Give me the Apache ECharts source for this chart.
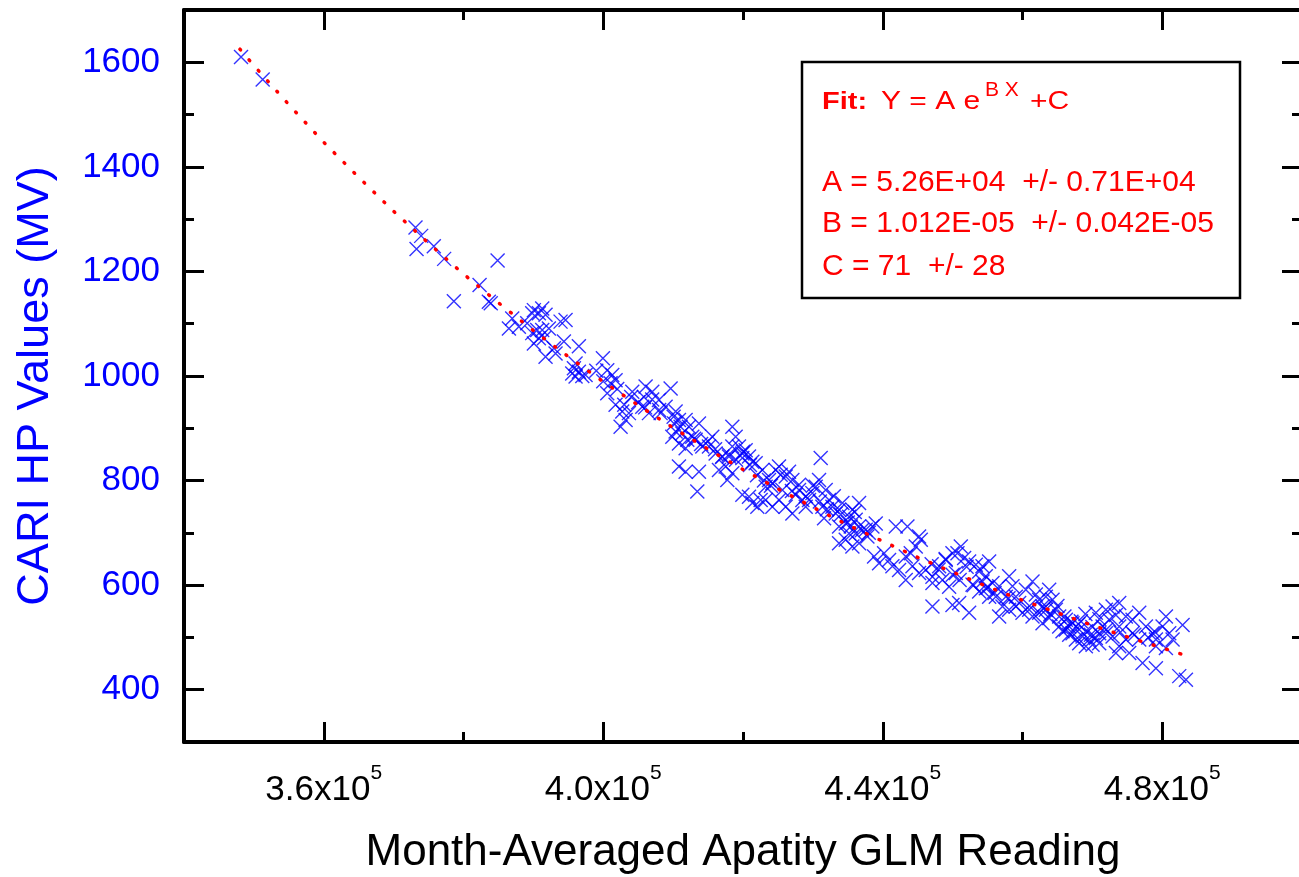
<!DOCTYPE html>
<html>
<head>
<meta charset="utf-8">
<script src="https://cdn.jsdelivr.net/npm/echarts@6/dist/echarts.min.js"></script>
<style>
html,body{margin:0;padding:0;background:#fff;}
#chart{width:1299px;height:877px;}
</style>
</head>
<body>
<div id="chart"></div>
<script>
// ---- data ----
const xTickValues = [360000, 400000, 440000, 480000];
const xTickLabels = ['3.6x10', '4.0x10', '4.4x10', '4.8x10'];
const xTickExponent = '5';
const xMinorTicks = [380000, 420000, 460000];
const yTickValues = [400, 600, 800, 1000, 1200, 1400, 1600];
const yMinorTicks = [500, 700, 900, 1100, 1300, 1500];

// Month-averaged Apatity GLM reading (x) and CARI HP values (y) of the scatter points
const glmReading = [
348160,351260,373130,373940,373280,375750,377230,384880,382300,378620,383630,383900,386970,386500,
390071,391265,390787,391742,389833,387924,389117,390549,389833,391265,392219,393890,394606,390787,391503,390071,394367,396515,392935,391742,393173,396038,395799,396515,396038,397470,395560,399952,400572,401288,401765,401050,400572,401765,402720,403675,403198,402482,404152,406061,407016,405823,405584,406538,409641,407970,408925,408209,410357,410834,411789,411072,410357,409880,410834,412027,412743,411789,413698,415607,415130,416085,417039,418471,418949,418471,417994,417517,416562,418471,417755,410834,411789,413698,413459,410072,411311,412266,410118,413221,414175,
419428,420382,419905,420859,421336,419905,421336,422530,422053,423246,423723,424678,425394,424200,425633,426587,427064,428019,427542,427064,428496,428974,429928,430883,431121,431837,432315,432792,431599,433269,433747,434701,435179,435656,436610,436133,435179,434701,435656,433747,437565,438520,438997,437804,436610,438758,439474,440190,440906,441383,442338,443293,444009,444725,445440,441861,443531,445202,444247,445202,446156,447111,448066,449020,449975,448543,449498,450452,447111,443293,
419905,421814,422769,425155,426110,428019,429451,430406,431360,433747,434224,436133,436610,435418,423246,424200,425155,426110,420859,
451170,450693,451647,452363,453318,454273,453795,454750,455227,452841,453795,454750,455704,456659,456182,457136,458091,458568,459046,459523,458091,456659,460477,461432,461909,462387,460955,461432,462864,463341,463819,464296,464773,463819,462864,465250,466205,466682,465727,467160,468114,467637,468592,469546,470024,469069,470978,471455,470501,471932,472887,473364,473842,472410,473842,474796,475751,476706,477660,475751,474796,473842,473364,475273,476706,478615,479092,480047,480524,481001,481479,482911,479092,480524,477183,479092,482432,483387,447113,449977,450932,452363,
466205,467160,468353,469069,469785,470501,471932,472887,470978,468114,466682,459046,459999,462387,463341,465250,457614,455227,454273,
397000,399000,402000,404000,405000,403000,406000,408000,407000,400000,
413000,414000,416000,417000,419000,421000,422000,423000,424000,420000,415000,418000,
427000,429000,431000,432000,434000,435000,437000,438000,436000,433000,430000,
447000,448000,450000,451000,453000,455000,456000,458000,449000,452000,
461000,463000,464000,466000,467000,468000,470000,472000,474000,476000,478000,479000,465000,469000,471000
];
const cariHp = [
1610,1567,1284,1268,1243,1248,1224,1221,1174,1143,1142,1139,1110,1091,
1126,1129,1120,1117,1120,1094,1101,1088,1082,1088,1091,1104,1107,1072,1072,1062,1066,1057,1053,1037,1043,1024,1015,1008,999,1002,1005,1034,1011,1002,992,986,967,945,932,929,916,903,970,980,970,960,941,929,976,954,941,929,932,916,916,903,894,884,871,878,884,862,909,884,865,852,846,903,884,865,846,827,820,814,801,827,817,817,779,922,890,903,909,878,865,
865,858,843,846,836,773,757,763,750,788,801,820,811,795,782,817,801,792,773,737,763,750,776,801,843,782,763,750,728,737,712,718,731,744,757,699,699,687,674,680,706,712,718,693,680,655,642,661,648,636,629,655,661,674,687,712,712,693,636,623,629,616,636,648,661,610,597,623,604,610,
852,833,820,827,808,782,763,788,750,744,757,725,712,712,763,750,763,750,769,
674,661,652,645,639,636,626,617,645,601,588,594,604,598,578,559,617,598,578,566,553,540,591,607,582,572,553,540,559,578,591,572,553,537,527,521,534,521,512,508,515,496,502,496,486,483,508,521,547,553,559,543,566,534,521,540,534,547,521,508,496,483,470,470,496,508,496,521,540,508,496,524,483,480,451,441,426,419,559,562,566,547,
515,527,531,512,505,499,508,502,489,489,505,559,547,547,553,540,578,578,607,
1000,1010,975,960,950,945,940,935,955,990,
880,870,860,845,840,830,810,800,790,855,875,850,
780,770,760,745,735,720,705,700,740,770,790,
640,630,620,610,600,595,585,575,650,635,
560,555,545,540,530,525,520,515,510,505,500,510,560,545,535
];

// dotted fit curve
const fitX = [348000,350000,355000,360000,365000,370000,375000,380000,385000,390000,395000,400000,405000,410000,415000,420000,425000,430000,435000,440000,445000,450000,455000,460000,465000,470000,475000,480000,483000];
const fitY = [1625,1594,1519,1447,1380,1315,1254,1195,1140,1087,1037,989,944,901,860,821,784,749,715,684,653,625,597,571,547,523,501,480,467];

const FONT = "'Liberation Sans', Arial, Helvetica, sans-serif";
const BLUE = '#0000ff';
const RED = '#ff0000';

const scatterData = glmReading.map((x, i) => [x, cariHp[i]]);
const fitData = fitX.map((x, i) => [x, fitY[i]]);

function xAx(pos, ticks, len, showLine, extra) {
  return Object.assign({
    type: 'value', position: pos, min: 340000, max: 500000,
    splitLine: {show: false},
    axisLine: {show: showLine, onZero: false, lineStyle: {color: '#000', width: 4}},
    axisTick: {show: true, inside: true, length: len, customValues: ticks, lineStyle: {color: '#000', width: 3}},
    axisLabel: {show: false}
  }, extra || {});
}
function yAx(pos, ticks, len, showLine, extra) {
  return Object.assign({
    type: 'value', position: pos, min: 300, max: 1700,
    splitLine: {show: false},
    axisLine: {show: showLine, onZero: false, lineStyle: {color: '#000', width: 4}},
    axisTick: {show: true, inside: true, length: len, customValues: ticks, lineStyle: {color: '#000', width: 3}},
    axisLabel: {show: false}
  }, extra || {});
}

const chart = echarts.init(document.getElementById('chart'), null, {renderer: 'canvas'});
chart.setOption({
  animation: false,
  backgroundColor: '#fff',
  grid: {left: 184, right: -3, top: 10, bottom: 135, containLabel: false, outerBoundsMode: 'none'},
  xAxis: [
    xAx('bottom', xTickValues, 20, true, {
      axisLabel: {
        show: true, customValues: xTickValues, margin: 21,
        fontSize: 35, fontFamily: FONT, color: '#000',
        formatter: function (v) {
          const i = xTickValues.indexOf(v);
          return '{a|' + xTickLabels[i] + '}{s|' + xTickExponent + '}';
        },
        rich: {
          a: {fontSize: 35, lineHeight: 45, verticalAlign: 'bottom', color: '#000', fontFamily: FONT},
          s: {fontSize: 21, lineHeight: 21, verticalAlign: 'top', color: '#000', fontFamily: FONT}
        }
      },
      name: 'Month-Averaged Apatity GLM Reading',
      nameLocation: 'middle', nameGap: 89,
      nameTextStyle: {fontSize: 44, color: '#000', fontFamily: FONT}
    }),
    xAx('top', xTickValues, 20, true),
    xAx('bottom', xMinorTicks, 10, false),
    xAx('top', xMinorTicks, 10, false)
  ],
  yAxis: [
    yAx('left', yTickValues, 20, true, {
      axisLabel: {
        show: true, customValues: yTickValues, margin: 24,
        formatter: function (v) { return String(v); },
        fontSize: 35, color: BLUE, fontFamily: FONT
      },
      name: 'CARI HP Values (MV)',
      nameLocation: 'middle', nameGap: 126, nameRotate: 90,
      nameTextStyle: {fontSize: 45, color: BLUE, fontFamily: FONT, padding: [0, 20, 0, 0]}
    }),
    yAx('right', yTickValues, 20, true),
    yAx('left', yMinorTicks, 10, false),
    yAx('right', yMinorTicks, 10, false)
  ],
  series: [
    {
      type: 'scatter', xAxisIndex: 0, yAxisIndex: 0,
      symbol: 'path://M0,0L10,10M10,0L0,10',
      symbolSize: 14,
      itemStyle: {color: 'rgba(0,0,0,0)', borderColor: BLUE, borderWidth: 1.4},
      emphasis: {disabled: true},
      data: scatterData, z: 2
    },
    {
      type: 'line', xAxisIndex: 0, yAxisIndex: 0,
      showSymbol: false, symbol: 'none', smooth: false,
      lineStyle: {color: RED, width: 3.5, type: [1, 13], cap: 'round'},
      emphasis: {disabled: true},
      data: fitData, z: 3
    }
  ],
  graphic: [
    {type: 'rect', shape: {x: 802, y: 62, width: 438, height: 236},
     style: {fill: '#fff', stroke: '#000', lineWidth: 2.5}, z: 10},
    {type: 'text', x: 822, y: 102, scaleY: 0.85, z: 11,
     style: {text: 'Fit:', x: 0, y: 0, verticalAlign: 'middle', fill: RED, font: 'bold 29px ' + FONT}},
    {type: 'text', x: 881, y: 102, scaleY: 0.85, z: 11,
     style: {text: 'Y = A e', x: 0, y: 0, verticalAlign: 'middle', fill: RED, font: '30px ' + FONT}},
    {type: 'text', x: 985, y: 90, z: 11,
     style: {text: 'B X', x: 0, y: 0, verticalAlign: 'middle', fill: RED, font: '21px ' + FONT}},
    {type: 'text', x: 1030, y: 102, scaleY: 0.85, z: 11,
     style: {text: '+C', x: 0, y: 0, verticalAlign: 'middle', fill: RED, font: '30px ' + FONT}},
    {type: 'text', x: 822, y: 183, z: 11,
     style: {text: 'A = 5.26E+04  +/- 0.71E+04', x: 0, y: 0, verticalAlign: 'middle', fill: RED, font: '30px ' + FONT}},
    {type: 'text', x: 822, y: 224, z: 11,
     style: {text: 'B = 1.012E-05  +/- 0.042E-05', x: 0, y: 0, verticalAlign: 'middle', fill: RED, font: '30px ' + FONT}},
    {type: 'text', x: 822, y: 267, z: 11,
     style: {text: 'C = 71  +/- 28', x: 0, y: 0, verticalAlign: 'middle', fill: RED, font: '30px ' + FONT}}
  ]
});
</script>
</body>
</html>
